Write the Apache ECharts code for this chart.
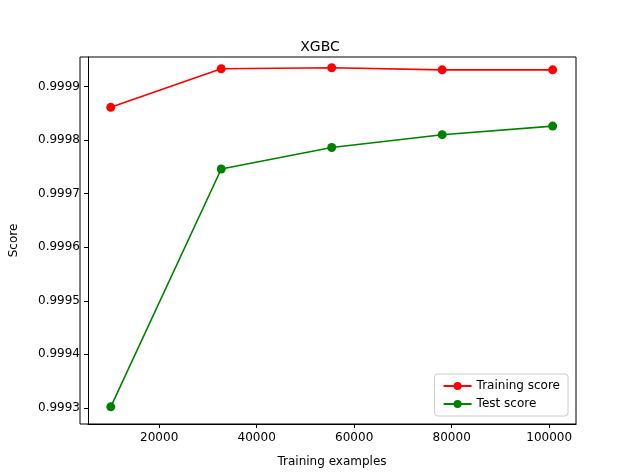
<!DOCTYPE html>
<html><head><meta charset="utf-8">
<script src="https://cdn.jsdelivr.net/npm/echarts@6/dist/echarts.min.js"></script>
<style>html,body{margin:0;padding:0;background:#fff}#c{width:640px;height:476px}</style>
</head><body><div id="c"></div>
<script>
var sizes = [10070, 32730, 55390, 78050, 100710];
var trainScore = [0.999861, 0.999933, 0.999935, 0.999931, 0.999931];
var testScore = [0.999302, 0.999746, 0.999786, 0.999810, 0.999826];
var xTicks = [20000, 40000, 60000, 80000, 100000];
var yTicks = [0.9993, 0.9994, 0.9995, 0.9996, 0.9997, 0.9998, 0.9999];
var font = 'DejaVu Sans';
var chart = echarts.init(document.getElementById('c'));
function pts(a){return sizes.map(function(x,i){return [x,a[i]];});}
chart.setOption({
  animation:false,
  textStyle:{fontFamily:font},
  title:{text:'XGBC',left:'center',top:35,textStyle:{fontFamily:font,fontSize:14,fontWeight:'normal',color:'#000'}},
  grid:{left:80,right:64,top:57,bottom:52},
  xAxis:{type:'value',min:5400,max:105500,name:'Training examples',nameLocation:'middle',nameGap:32,
    nameTextStyle:{fontFamily:font,fontSize:12,color:'#000'},
    axisLine:{onZero:false,lineStyle:{color:'#000'}},
    axisTick:{inside:false,length:4,lineStyle:{color:'#000'},customValues:xTicks},
    axisLabel:{color:'#000',fontSize:12,fontFamily:font,customValues:xTicks,formatter:function(v){return String(v);}},
    splitLine:{show:false}},
  yAxis:{type:'value',min:0.99927,max:0.999955,name:'Score',nameLocation:'middle',nameGap:68,
    nameTextStyle:{fontFamily:font,fontSize:12,color:'#000'},
    axisLine:{show:true,onZero:false,lineStyle:{color:'#000'}},
    axisTick:{show:true,length:4,lineStyle:{color:'#000'},customValues:yTicks},
    axisLabel:{color:'#000',fontSize:12,fontFamily:font,customValues:yTicks,formatter:function(v){return v.toFixed(4);}},
    splitLine:{show:false}},
  legend:{right:72,bottom:60,orient:'vertical',itemGap:6,backgroundColor:'#fff',borderColor:'#ccc',borderWidth:1,borderRadius:3,padding:[6,8],
    itemWidth:28,itemHeight:10,textStyle:{fontFamily:font,fontSize:12,color:'#000'},
    data:['Training score','Test score']},
  series:[
    {name:'Training score',type:'line',data:pts(trainScore),color:'red',symbol:'circle',symbolSize:9,lineStyle:{width:1.6,color:'red'},itemStyle:{color:'red'}},
    {name:'Test score',type:'line',data:pts(testScore),color:'green',symbol:'circle',symbolSize:9,lineStyle:{width:1.6,color:'green'},itemStyle:{color:'green'}}
  ],
  graphic:[{type:'rect',shape:{x:80,y:57,width:496,height:367},style:{fill:'none',stroke:'#000',lineWidth:1},silent:true,z:-1}]
});
</script></body></html>
